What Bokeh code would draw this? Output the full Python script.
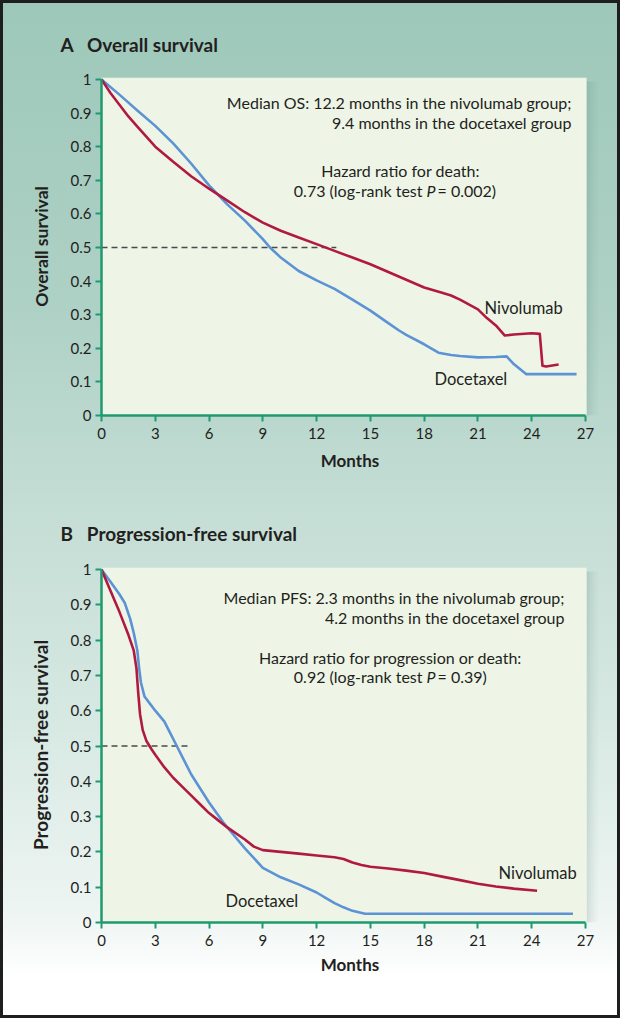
from bokeh.plotting import figure
from bokeh.layouts import column
from bokeh.models import FixedTicker, CustomJSTickFormatter, Label, Title
from bokeh.embed import file_html
from bokeh.resources import INLINE

# ---------------- data ----------------
x_ticks = [0, 3, 6, 9, 12, 15, 18, 21, 24, 27]
y_ticks = [0, 0.1, 0.2, 0.3, 0.4, 0.5, 0.6, 0.7, 0.8, 0.9, 1.0]

# Panel A: overall survival
os_nivo_months = [0, 0.5, 1, 1.5, 2, 3, 4, 5, 6, 7, 8, 9, 10, 11, 12, 13, 14, 15, 16, 17, 18, 19,
                  19.5, 20, 21, 21.5, 22, 22.5, 23, 24, 24.45, 24.6, 24.8, 25.5]
os_nivo_surv = [1.0, 0.96, 0.925, 0.89, 0.86, 0.80, 0.755, 0.712, 0.675, 0.64, 0.605, 0.574, 0.55, 0.53,
                0.51, 0.49, 0.47, 0.45, 0.427, 0.404, 0.381, 0.365, 0.357, 0.345, 0.316, 0.29, 0.268,
                0.238, 0.241, 0.245, 0.243, 0.148, 0.146, 0.152]
os_doce_months = [0, 1, 2, 3, 4, 5, 6, 7, 8, 9, 9.4, 10, 11, 12, 13, 14, 15, 16, 16.6, 17, 18, 18.8,
                  19.5, 20, 21, 22, 22.6, 23, 23.7, 26.5]
os_doce_surv = [1.0, 0.955, 0.908, 0.862, 0.81, 0.75, 0.685, 0.629, 0.58, 0.525, 0.5, 0.47, 0.43, 0.402,
                0.377, 0.345, 0.312, 0.275, 0.253, 0.24, 0.212, 0.187, 0.18, 0.177, 0.173, 0.174, 0.176,
                0.153, 0.123, 0.123]
os_median_x = [0, 13.1]
os_median_y = [0.5, 0.5]

# Panel B: progression-free survival
pfs_nivo_months = [0, 0.5, 1, 1.5, 1.8, 1.95, 2.05, 2.15, 2.3, 2.5, 2.8, 3, 3.5, 4, 4.5, 5, 5.5, 6, 6.5,
                   7, 8, 8.5, 9, 10, 11, 12, 13, 13.5, 14, 14.5, 15, 16, 17, 18, 19, 20, 21, 22, 23, 24.3]
pfs_nivo_surv = [1.0, 0.94, 0.88, 0.815, 0.77, 0.72, 0.65, 0.59, 0.545, 0.515, 0.49, 0.475, 0.44, 0.41,
                 0.385, 0.36, 0.335, 0.31, 0.29, 0.27, 0.235, 0.215, 0.205, 0.2, 0.195, 0.19, 0.185,
                 0.18, 0.17, 0.163, 0.158, 0.153, 0.147, 0.14, 0.13, 0.12, 0.11, 0.102, 0.096, 0.09]
pfs_doce_months = [0, 0.5, 1, 1.3, 1.6, 1.8, 2.0, 2.1, 2.2, 2.4, 2.7, 3, 3.5, 3.8, 4.2, 5, 6, 6.8, 7.5,
                   8, 9, 10, 11, 12, 12.5, 13, 13.5, 14, 14.7, 26.3]
pfs_doce_surv = [1.0, 0.965, 0.93, 0.905, 0.86, 0.82, 0.77, 0.72, 0.68, 0.64, 0.62, 0.60, 0.57, 0.54,
                 0.50, 0.42, 0.34, 0.283, 0.24, 0.21, 0.155, 0.128, 0.108, 0.085, 0.07, 0.055, 0.043,
                 0.033, 0.025, 0.025]
pfs_median_x = [0, 4.8]
pfs_median_y = [0.5, 0.5]

# ---------------- style ----------------
FONT = "Lato"
RED = "#b11a40"
BLUE = "#5b93d4"
GREEN = "#1f9a70"
TEXT = "#231f20"
PLOT_BG = "#eef5e7"

W = 620
LEFT = 101
FRAME_W = 497
PX_PER_MONTH = 484 / 27.0
NBSP = "\u00a0"


def make_panel(height, frame_h, px_per_unit, ylabel, ylabel_size, title, title_standoff,
               xlabel_standoff, nivo_x, nivo_y, doce_x, doce_y, med_x, med_y, texts):
    top = 77
    bottom = height - top - frame_h
    x_end = FRAME_W / PX_PER_MONTH
    y_end = frame_h / px_per_unit
    p = figure(width=W, height=height, output_backend="svg", toolbar_location=None,
               x_range=(0, x_end), y_range=(0, y_end),
               min_border_left=LEFT, min_border_right=W - LEFT - FRAME_W,
               min_border_top=top, min_border_bottom=bottom)
    p.border_fill_alpha = 0
    p.background_fill_alpha = 0
    p.outline_line_color = None
    p.grid.visible = False

    p.add_layout(Title(text=title, align="left", offset=-41, standoff=title_standoff,
                       text_font=FONT, text_font_size="19px", text_font_style="bold",
                       text_color=TEXT), "above")

    # plot panel background + soft shadow on the right
    bg_right = 27.06
    step = 2.0 / PX_PER_MONTH
    shadow_alphas = [0.16, 0.12, 0.09, 0.06, 0.035, 0.015]
    for i, a in enumerate(shadow_alphas):
        p.quad(left=bg_right + i * step, right=bg_right + (i + 1) * step,
               bottom=0, top=y_end - 4.0 / px_per_unit,
               fill_color="#3f6f60", fill_alpha=a, line_color=None)
    p.quad(left=0, right=bg_right, bottom=0, top=y_end, fill_color=PLOT_BG, line_color=None)

    # median reference line
    p.line(med_x, med_y, line_color="#4a4a4a", line_width=1.6, line_dash="6 4")
    # curves
    p.line(doce_x, doce_y, line_color=BLUE, line_width=2.6, line_join="round")
    p.line(nivo_x, nivo_y, line_color=RED, line_width=2.6, line_join="round")

    for ax in (p.xaxis[0], p.yaxis[0]):
        ax.axis_line_color = GREEN
        ax.axis_line_width = 2.5
        ax.major_tick_line_color = GREEN
        ax.major_tick_line_width = 2
        ax.major_tick_in = 0
        ax.major_tick_out = 6
        ax.minor_tick_line_color = None
        ax.major_label_text_font = FONT
        ax.major_label_text_font_size = "15px"
        ax.major_label_text_color = TEXT
        ax.axis_label_text_font = FONT
        ax.axis_label_text_font_style = "bold"
        ax.axis_label_text_color = TEXT

    p.xaxis.ticker = FixedTicker(ticks=x_ticks)
    p.xaxis.bounds = (0, 27)
    p.xaxis.axis_label = "Months"
    p.xaxis.axis_label_text_font_size = "17px"
    p.xaxis.major_label_standoff = 6
    p.xaxis.axis_label_standoff = xlabel_standoff

    p.yaxis.ticker = FixedTicker(ticks=y_ticks)
    p.yaxis.bounds = (0, 1)
    p.yaxis.formatter = CustomJSTickFormatter(code="return String(Number(tick.toFixed(1)));")
    p.yaxis.axis_label = ylabel
    p.yaxis.axis_label_text_font_size = ylabel_size
    p.yaxis.major_label_standoff = 4
    p.yaxis.axis_label_standoff = 16

    def px_to_x(px):
        return (px - 109) / PX_PER_MONTH

    base = texts["base"]

    def py_to_y(py):
        return (base - py) / px_per_unit

    for t in texts["items"]:
        txt, px, py, align, size = t[0], t[1], t[2], t[3], t[4]
        style = t[5] if len(t) > 5 else "normal"
        p.add_layout(Label(x=px_to_x(px), y=py_to_y(py), text=txt,
                           text_font=FONT, text_font_size=size, text_font_style=style,
                           text_color=TEXT, text_align=align, text_baseline="middle"))
    return p


texts_a = {
    "base": 423,
    "items": [
        ("Median OS: 12.2 months in the nivolumab group;", 579, 110, "right", "16px"),
        ("9.4 months in the docetaxel group", 579, 130, "right", "16px"),
        ("Hazard ratio for death:", 408, 178, "center", "16px"),
        ("0.73 (log-rank test", 430, 198, "right", "16px"),
        ("P", 434, 198, "left", "16px", "italic"),
        ("= 0.002)", 445, 198, "left", "16px"),
        ("Nivolumab", 492, 315, "left", "16.5px"),
        ("Docetaxel", 442, 386, "left", "16.5px"),
    ],
}
texts_b = {
    "base": 930,
    "items": [
        ("Median PFS: 2.3 months in the nivolumab group;", 572, 605, "right", "16px"),
        ("4.2 months in the docetaxel group", 572, 625, "right", "16px"),
        ("Hazard ratio for progression or death:", 398, 665, "center", "16px"),
        ("0.92 (log-rank test", 430, 684, "right", "16px"),
        ("P", 434, 684, "left", "16px", "italic"),
        ("= 0.39)", 445, 684, "left", "16px"),
        ("Nivolumab", 506, 880, "left", "16.5px"),
        ("Docetaxel", 233, 908, "left", "16.5px"),
    ],
}

pa = make_panel(490, 338, 336.0, "Overall survival", "17.5px",
                "A" + NBSP * 3 + "Overall survival", 44, 8,
                os_nivo_months, os_nivo_surv, os_doce_months, os_doce_surv,
                os_median_x, os_median_y, texts_a)
pb = make_panel(528, 355, 353.0, "Progression-free survival", "19px",
                "B" + NBSP * 3 + "Progression-free survival", 45, 5,
                pfs_nivo_months, pfs_nivo_surv, pfs_doce_months, pfs_doce_surv,
                pfs_median_x, pfs_median_y, texts_b)

layout = column(pa, pb, spacing=0, styles={
    "background": "linear-gradient(to bottom, #9dc8b9 0%, #aed1c5 30%, #c4ddd5 50%, #d6e8e2 70%, #eef5f3 90%, #ffffff 96%, #ffffff 100%)",
    "outline": "3px solid #1e1e1e",
    "outline-offset": "-3px",
})

open("out.html", "w").write(file_html(layout, INLINE))
